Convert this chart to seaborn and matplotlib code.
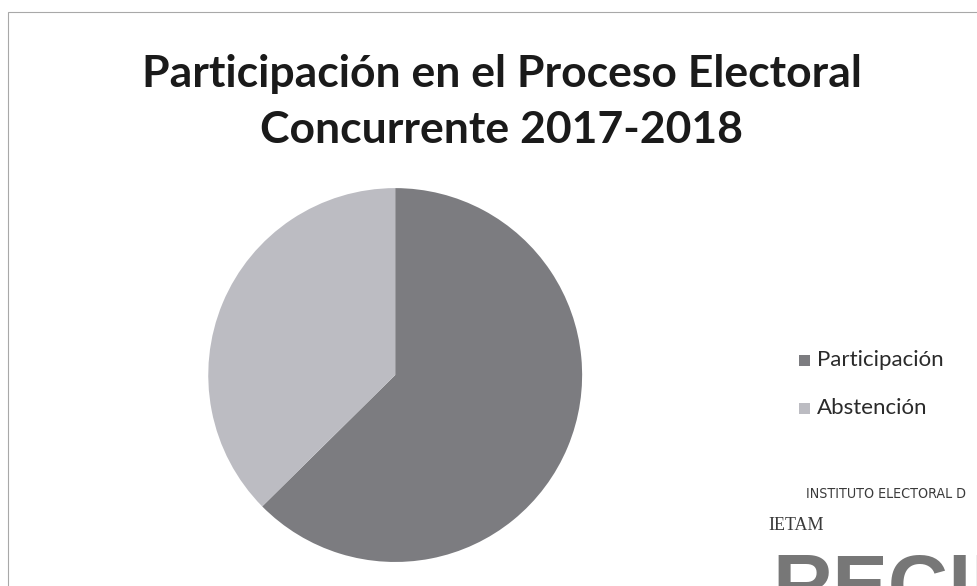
import matplotlib
matplotlib.use("Agg")
import matplotlib.pyplot as plt
import seaborn as sns
from matplotlib.patches import Rectangle

# data
categorias = ["Participación", "Abstención"]
porcentajes = [62.6, 37.4]
colores = ["#7c7c80", "#bcbcc2"]
titulo = ["Participación en el Proceso Electoral", "Concurrente 2017-2018"]

sns.set_theme(style="white")
plt.rcParams['font.family'] = ['Lato', 'DejaVu Sans']

fig = plt.figure(figsize=(9.77, 5.86), dpi=100)
fig.patch.set_facecolor("white")

# chart border (scanned frame)
fig.add_artist(Rectangle((8/977, -0.05), 1.2, 1 - 12/586 + 0.05, transform=fig.transFigure,
                         fill=False, edgecolor="#a8a8a8", linewidth=0.8))

fig.text(502/977, 1 - 74/586, titulo[0], ha="center", va="center", fontsize=32,
         fontweight="bold", color="#1a1a1a")
fig.text(502/977, 1 - 130/586, titulo[1], ha="center", va="center", fontsize=32,
         fontweight="bold", color="#1a1a1a")

ax = fig.add_axes([0.213, 0.041, 0.383, 0.638])
ax.pie(porcentajes, colors=colores, startangle=90, counterclock=False,
       wedgeprops=dict(linewidth=0))
ax.set_xlim(-1, 1)
ax.set_ylim(-1, 1)
ax.set_aspect("equal")
ax.axis("off")

# legend
ys = [360, 408]
for cat, col, y in zip(categorias, colores, ys):
    yf = 1 - y / 586
    fig.add_artist(Rectangle((799/977, yf - 5.5/586), 11/977, 11/586, transform=fig.transFigure,
                             facecolor=col, edgecolor="none"))
    fig.text(817/977, yf, cat, ha="left", va="center", fontsize=16, color="#2a2a2a")

# received stamp (scan artefact)
fig.text(806/977, 1 - 494/586, "INSTITUTO ELECTORAL D", ha="left", va="center", fontsize=10.2,
         color="#3a3a3a", fontstretch="condensed", family=["DejaVu Sans", "Liberation Sans"])
fig.text(768/977, 1 - 525/586, "IETAM", ha="left", va="center", fontsize=13,
         color="#3a3a3a", family=["Liberation Serif", "DejaVu Serif"])
fig.text(772/977, -0.075, "RECIBIDO", ha="left", va="bottom", fontsize=60, fontweight="bold",
         color="#555555", family=["Liberation Sans", "DejaVu Sans"], alpha=0.8)

plt.savefig("out.png", dpi=100, facecolor="white")
